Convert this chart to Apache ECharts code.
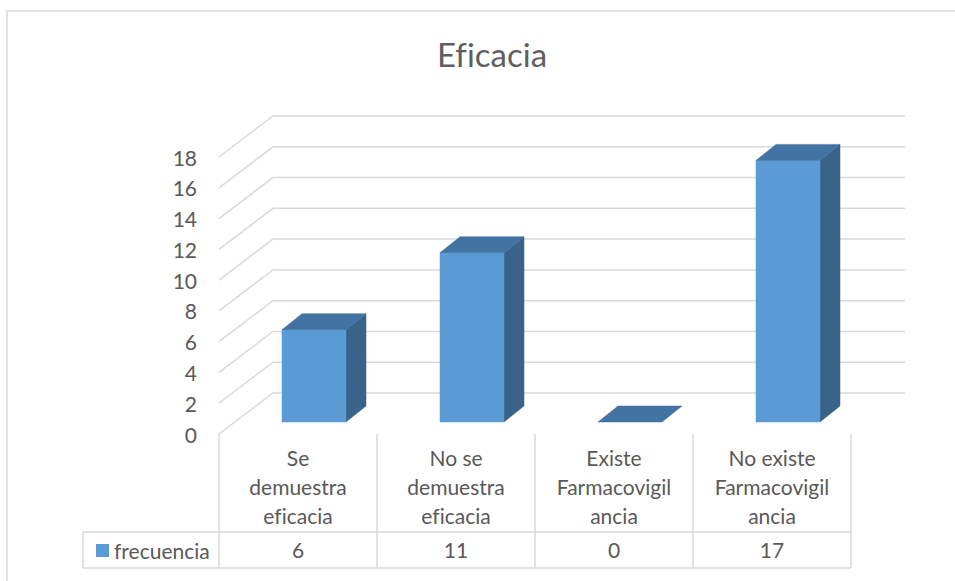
<!DOCTYPE html>
<html>
<head>
<meta charset="utf-8">
<script src="https://cdn.jsdelivr.net/npm/echarts@6/dist/echarts.min.js"></script>
<style>
html,body{margin:0;padding:0;background:#fff}
#c{width:955px;height:581px}
#c, #c text{font-variant-ligatures:none;font-feature-settings:"liga" 0, "clig" 0;}
</style>
</head>
<body>
<div id="c"></div>
<script>
const titleText = 'Eficacia';
const seriesName = 'frecuencia';
const categories = ['Se\ndemuestra\neficacia', 'No se\ndemuestra\neficacia', 'Existe\nFarmacovigil\nancia', 'No existe\nFarmacovigil\nancia'];
const frecuencia = [6, 11, 0, 17];
const yTicks = [0, 2, 4, 6, 8, 10, 12, 14, 16, 18];

const FONT = 'Lato, "Open Sans", sans-serif';
const TXT = '#595959';
const GRID = '#D9D9D9';
const DEPTH = [54, -41];      // full floor depth (front -> back wall)
const BAR_OFF = [16, -12];    // bar front face offset from front plane
const BAR_DEPTH = [20, -16];  // bar depth
const BAR_W = 64;
const C_FRONT = '#5B9BD5', C_TOP = '#4273A2', C_SIDE = '#3A6389';

const chart = echarts.init(document.getElementById('c'), null, {renderer: 'svg'});

const option = {
  animation: false,
  backgroundColor: '#fff',
  title: {
    text: titleText, left: 487, textAlign: 'center', top: 32,
    textStyle: {fontFamily: FONT, fontSize: 33, fontWeight: 'normal', color: '#5f5f5f'}
  },
  legend: {
    data: [seriesName], left: 91, top: 535, icon: 'rect', itemWidth: 13, itemHeight: 13,
    textStyle: {fontFamily: FONT, fontSize: 21, color: TXT, padding: [0, 0, 0, 0]}
  },
  grid: {left: 219, right: 104, top: 157, bottom: 147, containLabel: false},
  xAxis: {
    type: 'category', data: categories,
    axisLine: {show: false}, axisTick: {show: false}, splitLine: {show: false},
    axisLabel: {interval: 0, margin: 9, fontFamily: FONT, fontSize: 21, lineHeight: 29, color: TXT, align: 'center'}
  },
  yAxis: {
    type: 'value', min: 0, max: 18, interval: 2,
    axisLine: {show: false}, axisTick: {show: false}, splitLine: {show: false},
    axisLabel: {margin: 22, fontFamily: FONT, fontSize: 21, color: TXT}
  },
  graphic: [{
    type: 'rect', silent: true, z: -10,
    shape: {x: 7, y: 11, width: 1000, height: 700},
    style: {fill: 'none', stroke: GRID, lineWidth: 1.5}
  }],
  series: [
    {
      name: 'grid3d', type: 'custom', clip: false, z: 1,
      data: yTicks.map(v => [0, v]),
      renderItem: function (params, api) {
        const v = api.value(1);
        const p = api.coord([0, v]);
        const bw = api.size([1, 0])[0];
        const xl = p[0] - bw / 2;
        const xr = api.coord([categories.length - 1, v])[0] + bw / 2;
        return {
          type: 'polyline',
          shape: {points: [[xl, p[1]], [xl + DEPTH[0], p[1] + DEPTH[1]], [xr + DEPTH[0], p[1] + DEPTH[1]]]},
          style: {stroke: GRID, lineWidth: 1.5, fill: null}
        };
      }
    },
    {
      name: 'table', type: 'custom', clip: false, z: 1,
      data: [[0, 0]],
      renderItem: function (params, api) {
        const bw = api.size([1, 0])[0];
        const p0 = api.coord([0, 0]);
        const xl = p0[0] - bw / 2;
        const xr = api.coord([categories.length - 1, 0])[0] + bw / 2;
        const yTop = p0[1];
        const yMid = yTop + 98;
        const yBot = yTop + 134;
        const xLeg = xl - 136;
        const st = {stroke: GRID, lineWidth: 1.5};
        const children = [];
        for (let i = 0; i <= categories.length; i++) {
          const x = xl + i * bw;
          children.push({type: 'line', shape: {x1: x, y1: yTop, x2: x, y2: yBot}, style: st});
        }
        children.push({type: 'line', shape: {x1: xLeg, y1: yMid, x2: xr, y2: yMid}, style: st});
        children.push({type: 'line', shape: {x1: xLeg, y1: yBot, x2: xr, y2: yBot}, style: st});
        children.push({type: 'line', shape: {x1: xLeg, y1: yMid, x2: xLeg, y2: yBot}, style: st});
        frecuencia.forEach((v, i) => {
          const c = api.coord([i, 0]);
          children.push({
            type: 'text',
            style: {text: String(v), x: c[0], y: (yMid + yBot) / 2 - 1, align: 'center', verticalAlign: 'middle',
              fontFamily: FONT, fontSize: 21, fill: TXT}
          });
        });
        return {type: 'group', children: children};
      }
    },
    {
      name: seriesName, type: 'custom', clip: false, z: 3,
      itemStyle: {color: C_FRONT},
      data: frecuencia.map((v, i) => [i, v]),
      renderItem: function (params, api) {
        const i = api.value(0), v = api.value(1);
        const b = api.coord([i, 0]);
        const t = api.coord([i, v]);
        const cx = b[0] + BAR_OFF[0];
        const x0 = cx - BAR_W / 2, x1 = cx + BAR_W / 2;
        const yb = b[1] + BAR_OFF[1], yt = t[1] + BAR_OFF[1];
        const dx = BAR_DEPTH[0], dy = BAR_DEPTH[1];
        const children = [];
        if (yb - yt > 0.5) {
          children.push({type: 'polygon', shape: {points: [[x1, yt], [x1 + dx, yt + dy], [x1 + dx, yb + dy], [x1, yb]]},
            style: {fill: C_SIDE, stroke: C_SIDE, lineWidth: 0.5}});
          children.push({type: 'rect', shape: {x: x0, y: yt, width: BAR_W, height: yb - yt},
            style: {fill: C_FRONT, stroke: C_FRONT, lineWidth: 0.5}});
        }
        children.push({type: 'polygon', shape: {points: [[x0, yt], [x0 + dx, yt + dy], [x1 + dx, yt + dy], [x1, yt]]},
          style: {fill: C_TOP, stroke: C_TOP, lineWidth: 0.5}});
        return {type: 'group', children: children};
      }
    }
  ]
};
chart.setOption(option);
</script>
</body>
</html>
